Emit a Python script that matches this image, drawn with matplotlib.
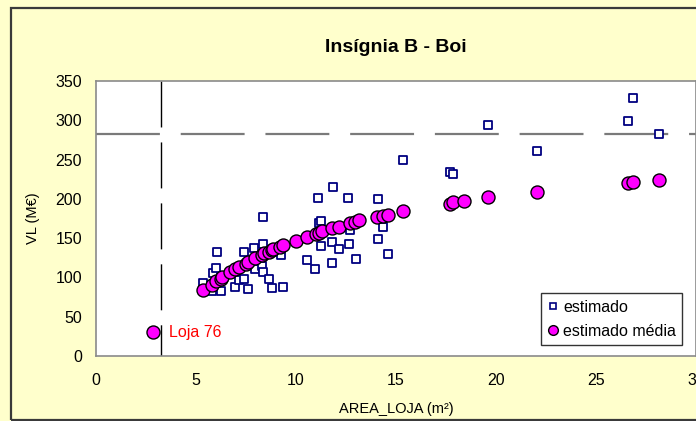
import matplotlib
matplotlib.use("Agg")
import matplotlib.pyplot as plt
from matplotlib.lines import Line2D
from matplotlib.patches import Rectangle

plt.rcParams["font.family"] = ["Liberation Sans", "DejaVu Sans"]

# Store area (m²) and estimated value (M€) per store
area_est = [5.33, 5.82, 6.24, 5.86, 6.0, 6.07, 6.97, 7.15, 7.42, 7.59, 7.39, 7.88,
            7.97, 8.32, 8.35, 8.35, 8.35, 8.66, 8.79, 9.23, 9.37, 10.53, 10.96,
            11.1, 11.16, 11.25, 11.23, 11.8, 11.8, 11.87, 12.14, 12.58, 12.63,
            12.7, 13.02, 14.08, 14.08, 14.35, 14.6, 15.35, 17.72, 17.85, 19.62,
            22.06, 26.62, 26.84, 28.17]
vl_est = [93.5, 83, 83, 106, 112.5, 133, 87.5, 96.6, 98, 84.7, 133, 138,
          111, 114.8, 107.2, 176.7, 142, 97.5, 86.2, 128, 87.5, 122, 111,
          200.7, 169.5, 171.5, 139.5, 144.8, 118.7, 215.3, 136.3, 200.9, 142.8,
          160, 123.3, 199.2, 148.7, 163.6, 129.7, 249.2, 234.3, 231.4, 294,
          260.6, 299.2, 328.4, 283]

# Averaged estimate per store
area_med = [2.85, 5.33, 5.78, 6.0, 6.24, 6.3, 6.71, 6.96, 7.15, 7.48, 7.6, 7.97,
            8.29, 8.41, 8.63, 8.79, 8.87, 9.21, 9.37, 10.0, 10.54, 11.0, 11.14,
            11.28, 11.78, 12.15, 12.69, 12.95, 13.13, 14.06, 14.33, 14.61, 15.35,
            17.72, 17.87, 18.42, 19.62, 22.06, 26.62, 26.84, 28.17]
vl_med = [30, 84.5, 91, 95.5, 98.5, 100, 107, 110.5, 113, 117, 119.5, 124.5,
          128.5, 130.5, 132.5, 135, 136, 139, 141, 146.5, 151, 155.5, 157,
          159, 162.3, 164, 168.7, 171, 172.5, 177, 178.5, 180, 184.8,
          194, 196.6, 197.5, 202.6, 209, 220.8, 222, 223.7]

# Reference lines and highlighted store
ref_area = 3.25
ref_vl = 282
label_store = "Loja 76"
store_area, store_vl = area_med[0], vl_med[0]

series_names = ["estimado", "estimado média"]
x_ticks = [0, 5, 10, 15, 20, 25, 30]
y_ticks = [0, 50, 100, 150, 200, 250, 300, 350]

W, H = 696, 421
fig = plt.figure(figsize=(W / 100, H / 100), dpi=100, facecolor="#FFFFCC")
fig.patches.append(Rectangle((10.5 / W, 1.5 / H), 1.2, (H - 9) / H,
                             transform=fig.transFigure, fill=False,
                             edgecolor="#3a3a3a", linewidth=1.6, zorder=0))

ax = fig.add_axes([96 / W, (H - 356) / H, 600 / W, 275 / H])
ax.set_facecolor("white")
ax.set_xlim(0, 30)
ax.set_ylim(0, 350)
ax.set_xticks(x_ticks)
ax.set_yticks(y_ticks)
ax.tick_params(length=0, labelsize=11.5)
ax.tick_params(axis="y", pad=10)
ax.tick_params(axis="x", pad=12)
for s in ax.spines.values():
    s.set_color("#8a8a8a")
    s.set_linewidth(1.2)

# dashed reference lines
ax.axhline(ref_vl, color="#7a7a7a", linewidth=1.6,
           dashes=(46 / 1.6, 15 / 1.6), zorder=1)
ax.axvline(ref_area, ymin=1, ymax=0, color="black", linewidth=1.0,
           dashes=(46 / 1.39, 15 / 1.39), zorder=1)

ax.scatter(area_est, vl_est, marker="s", s=30, facecolor="white",
           edgecolor="#000080", linewidths=1.3, zorder=3)
ax.scatter(area_med, vl_med, marker="o", s=88, facecolor="#FF00FF",
           edgecolor="black", linewidths=1.0, zorder=4)

ax.text(store_area + 0.8, store_vl, label_store, color="#FF0000",
        fontsize=11.5, va="center", ha="left")

ax.set_title("Insígnia B - Boi", fontsize=14, fontweight="bold", pad=21)
ax.set_xlabel("AREA_LOJA (m²)", fontsize=10.5, labelpad=10)
ax.set_ylabel("VL (M€)", fontsize=10.5, labelpad=11)

handles = [
    Line2D([], [], linestyle="none", marker="s", markersize=5,
           markerfacecolor="white", markeredgecolor="#000080", markeredgewidth=1.2),
    Line2D([], [], linestyle="none", marker="o", markersize=7,
           markerfacecolor="#FF00FF", markeredgecolor="black", markeredgewidth=1.0),
]
leg = ax.legend(handles, series_names, loc="lower right",
                bbox_to_anchor=(0.977, 0.04), fontsize=11.5, frameon=True,
                fancybox=False, handlelength=0.6, handletextpad=0.35,
                borderpad=0.4, labelspacing=0.55, borderaxespad=0)
leg.get_frame().set_edgecolor("black")
leg.get_frame().set_linewidth(1.0)

fig.savefig("out.png", dpi=100, facecolor=fig.get_facecolor())
